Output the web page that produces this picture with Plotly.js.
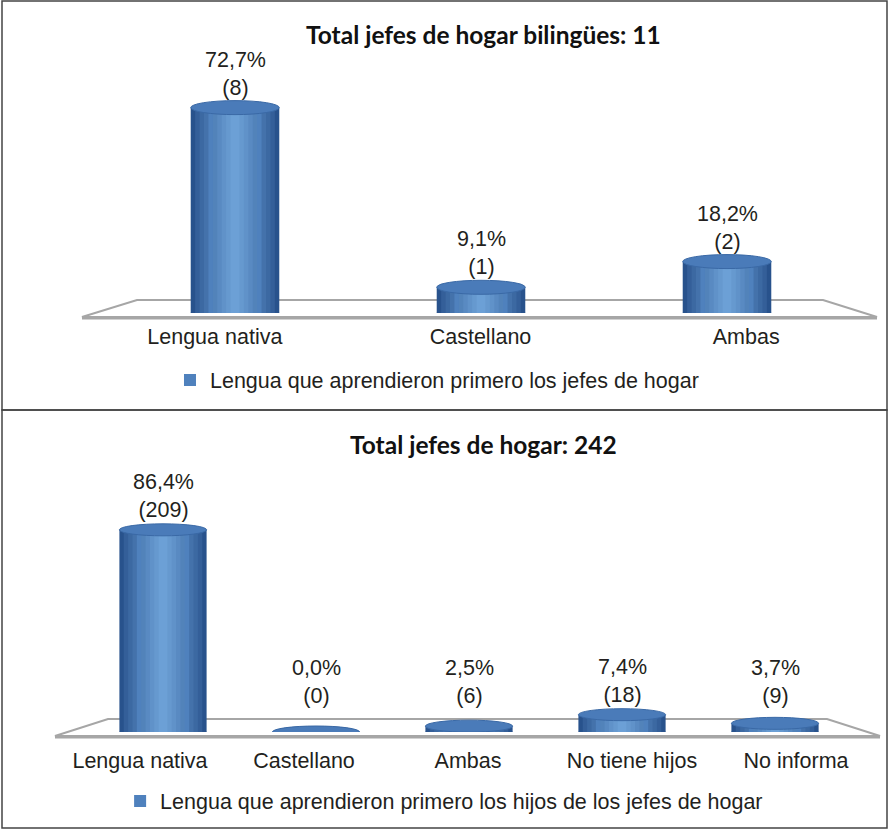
<!DOCTYPE html>
<html>
<head>
<meta charset="utf-8">
<script src="https://cdn.plot.ly/plotly-3.0.1.min.js"></script>
<style>body{margin:0;background:#fff}</style>
</head>
<body>
<div id="chart" style="width:890px;height:829px"></div>
<script>
// top panel: first language of bilingual household heads
var catsTop = ['Lengua nativa', 'Castellano', 'Ambas'];
var pctTop = [72.7, 9.1, 18.2];
var nTop = [8, 1, 2];

// bottom panel: first language of the children
var catsBot = ['Lengua nativa', 'Castellano', 'Ambas', 'No tiene hijos', 'No informa'];
var pctBot = [86.4, 0.0, 2.5, 7.4, 3.7];
var nBot = [209, 0, 6, 18, 9];

var W = 890, H = 829;
function px(v) { return v / W; }
function py(v) { return 1 - v / H; }

// cylinder look: stacked bars, narrower and lighter towards the middle
var edge = [40, 82, 140], mid = [108, 160, 214];
var layers = 10;
var FONT = 'Liberation Sans, Arial, sans-serif';
var FS = 21.5;

function shade(k) {
  var t = Math.pow(k / (layers - 1), 0.8);
  var c = edge.map(function (e, j) { return Math.round(e + (mid[j] - e) * t); });
  return 'rgb(' + c.join(',') + ')';
}

function cylinders(cats, vals, width, xa, ya, name, legendId) {
  var out = [];
  for (var k = 0; k < layers; k++) {
    out.push({
      type: 'bar', x: cats, y: vals, width: width * (1 - k / layers),
      marker: {color: k === 4 ? '#4f81bd' : shade(k), line: {width: 0}},
      xaxis: xa, yaxis: ya, hoverinfo: 'skip',
      name: name, legend: legendId, showlegend: k === 4
    });
  }
  return out;
}

// empty trace so the category-name axis gets drawn
function nameHolder(cats, xa, ya) {
  return {type: 'scatter', mode: 'none', x: cats.map(function (c, i) { return i; }),
    y: cats.map(function () { return 0; }), xaxis: xa, yaxis: ya,
    hoverinfo: 'skip', showlegend: false};
}

function capShapes(vals, width, xa, ya, h) {
  var out = [];
  vals.forEach(function (v, i) {
    out.push({type: 'circle', xref: xa, yref: ya, ysizemode: 'pixel', yanchor: 0,
      y0: -h, y1: h, x0: i - width / 2, x1: i + width / 2,
      fillcolor: '#2d5a94', line: {width: 0}, layer: 'below'});
    out.push({type: 'circle', xref: xa, yref: ya, ysizemode: 'pixel', yanchor: v,
      y0: -h, y1: h, x0: i - width / 2, x1: i + width / 2,
      fillcolor: '#4a7bb9', line: {color: '#3a69a6', width: 1}, layer: 'above'});
  });
  return out;
}

// labels sit above the bar, but never lower than a minimum height above the floor
function labels(vals, counts, xa, ya, shift, minY) {
  return vals.map(function (v, i) {
    return {xref: xa, yref: ya, x: i, y: Math.max(v, minY), showarrow: false, yanchor: 'bottom', yshift: shift,
      text: v.toFixed(1).replace('.', ',') + '%<br>(' + counts[i] + ')',
      font: {family: FONT, size: FS, color: '#231f20'}};
  });
}

function floor(l0, l1, r1, r0, yBack, yFront) {
  return {type: 'path', xref: 'paper', yref: 'paper', layer: 'below',
    path: 'M' + px(l0) + ',' + py(yFront) + ' L' + px(l1) + ',' + py(yBack) +
      ' L' + px(r1) + ',' + py(yBack) + ' L' + px(r0) + ',' + py(yFront) + ' Z',
    fillcolor: '#ffffff', line: {color: '#a6a6a6', width: 2}};
}

var wTop = 0.36, wBot = 0.57;
var data = cylinders(catsTop, pctTop, wTop, 'x', 'y', 'Lengua que aprendieron primero los jefes de hogar', 'legend')
  .concat(cylinders(catsBot, pctBot, wBot, 'x2', 'y2', 'Lengua que aprendieron primero los hijos de los jefes de hogar', 'legend2'))
  .concat([nameHolder(catsTop, 'x3', 'y'), nameHolder(catsBot, 'x4', 'y2')]);

var shapes = [
  floor(82, 137, 823, 877, 300, 317),
  floor(55, 108, 827, 880, 719, 736),
  {type: 'line', xref: 'paper', yref: 'paper', x0: px(82), x1: px(877), y0: py(318), y1: py(318), line: {color: '#a6a6a6', width: 3}, layer: 'below'},
  {type: 'line', xref: 'paper', yref: 'paper', x0: px(55), x1: px(880), y0: py(737), y1: py(737), line: {color: '#a6a6a6', width: 3}, layer: 'below'},
  {type: 'rect', xref: 'paper', yref: 'paper', x0: px(2), x1: px(887), y0: py(410), y1: py(1), line: {color: '#444', width: 1.5}},
  {type: 'rect', xref: 'paper', yref: 'paper', x0: px(2), x1: px(887), y0: py(828), y1: py(410), line: {color: '#444', width: 1.5}}
].concat(capShapes(pctTop, wTop, 'x', 'y', 7), capShapes(pctBot, wBot, 'x2', 'y2', 6));

var bareX = {showgrid: false, zeroline: false, showline: false, ticks: '', fixedrange: true, showticklabels: false};
var axisY = {visible: false, fixedrange: true};

// category names sit on the front edge of the floor, so they spread wider than the bars
function labelAxis(cats, dom, anchor, standoff) {
  return {domain: dom, anchor: anchor, range: [-0.5, cats.length - 0.5], fixedrange: true,
    showgrid: false, zeroline: false, showline: false, ticks: '',
    tickvals: cats.map(function (c, i) { return i; }), ticktext: cats,
    tickfont: {family: FONT, size: FS, color: '#231f20'}, ticklabelstandoff: standoff};
}

var layout = {
  width: W, height: H,
  margin: {l: 0, r: 0, t: 0, b: 0},
  paper_bgcolor: '#ffffff', plot_bgcolor: 'rgba(0,0,0,0)',
  barmode: 'overlay', showlegend: true,
  xaxis: Object.assign({}, bareX, {domain: [px(112), px(850)], anchor: 'y', range: [-0.5, 2.5]}),
  yaxis: Object.assign({}, axisY, {domain: [py(313), py(87)], range: [0, 80]}),
  xaxis2: Object.assign({}, bareX, {domain: [px(86.5), px(851.5)], anchor: 'y2', range: [-0.5, 4.5]}),
  yaxis2: Object.assign({}, axisY, {domain: [py(732), py(498)], range: [0, 100]}),
  xaxis3: labelAxis(catsTop, [px(82), px(879)], 'y', 8),
  xaxis4: labelAxis(catsBot, [px(58), px(878)], 'y2', 13),
  legend: {orientation: 'h', x: 0.491, xanchor: 'center', y: py(380), yanchor: 'middle',
    font: {family: FONT, size: FS, color: '#231f20'}},
  legend2: {orientation: 'h', x: 0.499, xanchor: 'center', y: py(801), yanchor: 'middle',
    font: {family: FONT, size: FS, color: '#231f20'}},
  shapes: shapes,
  annotations: [
    {xref: 'paper', yref: 'paper', x: px(484), y: py(35), showarrow: false, yanchor: 'middle',
      text: '<b>Total jefes de hogar bilingües: 11</b>', font: {family: 'Lato, sans-serif', size: 24.5, color: '#111'}},
    {xref: 'paper', yref: 'paper', x: px(484), y: py(445), showarrow: false, yanchor: 'middle',
      text: '<b>Total jefes de hogar: 242</b>', font: {family: 'Lato, sans-serif', size: 24.5, color: '#111'}}
  ].concat(labels(pctTop, nTop, 'x', 'y', 6, 0), labels(pctBot, nBot, 'x2', 'y2', 6, 6.8))
};

Plotly.newPlot('chart', data, layout, {displayModeBar: false, staticPlot: true});
</script>
</body>
</html>
